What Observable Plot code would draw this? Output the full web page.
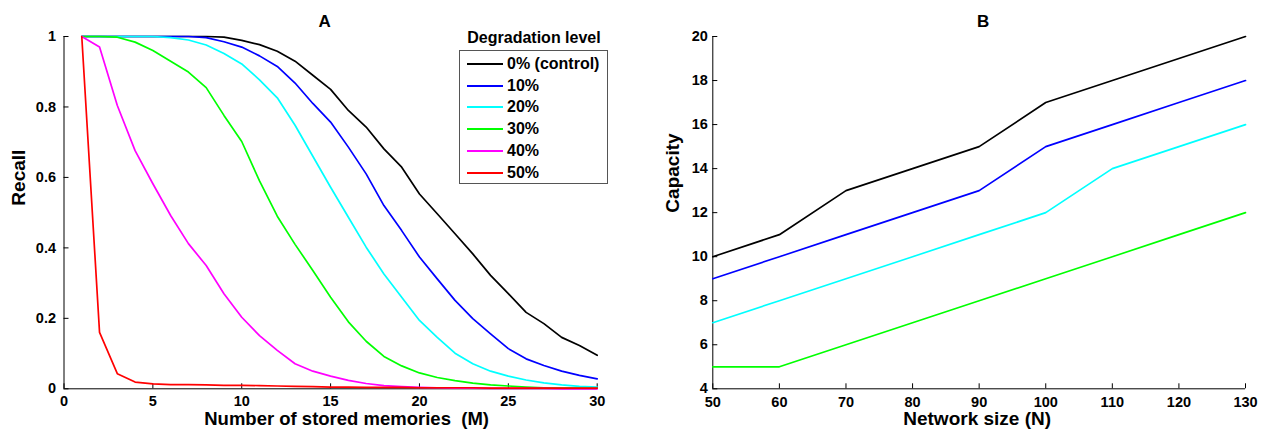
<!DOCTYPE html>
<html>
<head>
<meta charset="utf-8">
<script src="https://cdn.jsdelivr.net/npm/d3@7"></script>
<script src="https://cdn.jsdelivr.net/npm/@observablehq/plot@0.6"></script>
<style>
  body { margin: 0; background: #fff; }
  #wrap { position: relative; width: 1270px; height: 434px; display: flex; font-family: "Liberation Sans", Arial, sans-serif; }
  #wrap svg { display: block; }
  #legtitle { position: absolute; left: 459px; width: 150px; top: 29px; text-align: center; font-weight: bold; font-size: 16px; line-height: 18px; }
  #legend { position: absolute; left: 459px; top: 50px; width: 149px; height: 134px; border: 1px solid #555; box-sizing: border-box; background: #fff; }
  .row { position: absolute; left: 0; height: 20px; display: flex; align-items: center; font-weight: bold; font-size: 16px; }
  .row .sw { width: 36px; height: 2px; margin-left: 7px; margin-right: 4px; }
</style>
</head>
<body>
<div id="wrap"></div>
<script>
// ---------- Panel A data ----------
const memories = [1,2,3,4,5,6,7,8,9,10,11,12,13,14,15,16,17,18,19,20,21,22,23,24,25,26,27,28,29,30];
const recall0  = [1,1,1,1,1,1,1,1,0.998,0.989,0.977,0.958,0.93,0.89,0.85,0.79,0.743,0.681,0.629,0.553,0.497,0.44,0.383,0.322,0.27,0.217,0.185,0.146,0.123,0.095];
const recall10 = [1,1,1,1,1,1,1,0.997,0.985,0.97,0.945,0.915,0.868,0.81,0.757,0.686,0.61,0.52,0.449,0.374,0.312,0.251,0.199,0.156,0.114,0.085,0.066,0.05,0.038,0.028];
const recall20 = [1,1,1,1,1,0.997,0.99,0.976,0.952,0.922,0.877,0.826,0.748,0.66,0.572,0.487,0.402,0.326,0.26,0.194,0.146,0.101,0.071,0.05,0.036,0.025,0.017,0.011,0.007,0.005];
const recall30 = [1,1,0.998,0.984,0.96,0.93,0.899,0.855,0.776,0.702,0.59,0.49,0.41,0.336,0.26,0.19,0.135,0.092,0.065,0.045,0.032,0.023,0.016,0.011,0.008,0.005,0.003,0.002,0.002,0.001];
const recall40 = [1,0.97,0.804,0.676,0.582,0.492,0.412,0.35,0.27,0.203,0.151,0.109,0.071,0.05,0.036,0.024,0.015,0.009,0.006,0.004,0.003,0.002,0.002,0.001,0.001,0.001,0.001,0,0,0];
const recall50 = [1,0.16,0.043,0.019,0.014,0.012,0.012,0.011,0.01,0.01,0.009,0.008,0.007,0.006,0.005,0.005,0.004,0.004,0.004,0.003,0.003,0.003,0.003,0.002,0.002,0.002,0.002,0.002,0.002,0.002];

const levelLabels = ["0% (control)", "10%", "20%", "30%", "40%", "50%"];
const levelColors = ["#000000", "#0000ff", "#00ffff", "#00ff00", "#ff00ff", "#ff0000"];
const xTicksA = [0,5,10,15,20,25,30];
const yTicksA = [0,0.2,0.4,0.6,0.8,1];

// ---------- Panel B data ----------
const networkSize = [50,60,70,80,90,100,110,120,130];
const capacity0  = [10,11,13,14,15,17,18,19,20];
const capacity10 = [9,10,11,12,13,15,16,17,18];
const capacity20 = [7,8,9,10,11,12,14,15,16];
const capacity30 = [5,5,6,7,8,9,10,11,12];
const xTicksB = [50,60,70,80,90,100,110,120,130];
const yTicksB = [4,6,8,10,12,14,16,18,20];

// ---------- build tables ----------
const seriesA = [recall0, recall10, recall20, recall30, recall40, recall50];
const dataA = seriesA.flatMap((s, k) => s.map((v, i) => ({x: memories[i], y: v, level: levelLabels[k]})));
const seriesB = [capacity0, capacity10, capacity20, capacity30];
const dataB = seriesB.flatMap((s, k) => s.map((v, i) => ({x: networkSize[i], y: v, level: levelLabels[k]})));

const FONT = "Liberation Sans, Arial, sans-serif";
const colorScale = {domain: levelLabels, range: levelColors};

const chartA = Plot.plot({
  width: 635, height: 434,
  marginLeft: 63.5, marginRight: 38.3, marginTop: 36, marginBottom: 45.7,
  style: {fontFamily: FONT, fontWeight: "bold", fontSize: "14px", color: "#000", background: "#fff"},
  x: {domain: [0, 30]},
  y: {domain: [0, 1]},
  color: colorScale,
  marks: [
    Plot.axisX({ticks: xTicksA, tickSize: -5, tickPadding: 12, label: null, fontSize: 14.5, fontWeight: "bold"}),
    Plot.axisY({ticks: yTicksA, tickSize: -5, tickPadding: 13, label: null, fontSize: 14.5, fontWeight: "bold", tickFormat: d => String(d)}),
    Plot.ruleX([0], {stroke: "#000"}),
    Plot.ruleY([0], {stroke: "#000"}),
    Plot.line(dataA, {x: "x", y: "y", z: "level", stroke: "level", strokeWidth: 1.7}),
    Plot.text(["A"], {frameAnchor: "top", dy: -22, dx: -6, fontSize: 17, fontWeight: "bold"}),
    Plot.text(["Number of stored memories\u00a0 (M)"], {frameAnchor: "bottom", dy: 36, dx: 16, fontSize: 18.5, fontWeight: "bold"}),
    Plot.text(["Recall"], {frameAnchor: "left", dx: -45, dy: -7, rotate: -90, fontSize: 19, fontWeight: "bold"})
  ]
});

const chartB = Plot.plot({
  width: 635, height: 434,
  marginLeft: 77.3, marginRight: 25, marginTop: 36, marginBottom: 45.7,
  style: {fontFamily: FONT, fontWeight: "bold", fontSize: "14px", color: "#000", background: "#fff"},
  x: {domain: [50, 130]},
  y: {domain: [4, 20]},
  color: colorScale,
  marks: [
    Plot.axisX({ticks: xTicksB, tickSize: -5, tickPadding: 12.5, label: null, fontSize: 14.5, fontWeight: "bold"}),
    Plot.axisY({ticks: yTicksB, tickSize: -5, tickPadding: 10, label: null, fontSize: 14.5, fontWeight: "bold"}),
    Plot.ruleX([50], {stroke: "#000"}),
    Plot.ruleY([4], {stroke: "#000"}),
    Plot.line(dataB, {x: "x", y: "y", z: "level", stroke: "level", strokeWidth: 1.7}),
    Plot.text(["B"], {frameAnchor: "top", dy: -22, dx: 4, fontSize: 17, fontWeight: "bold"}),
    Plot.text(["Network size (N)"], {frameAnchor: "bottom", dy: 36.5, dx: -2, fontSize: 19, fontWeight: "bold"}),
    Plot.text(["Capacity"], {frameAnchor: "left", dx: -40, rotate: -90, fontSize: 19, fontWeight: "bold"})
  ]
});

const wrap = document.getElementById("wrap");
wrap.appendChild(chartA);
wrap.appendChild(chartB);

// legend (HTML overlay inside panel A)
const lt = document.createElement("div");
lt.id = "legtitle";
lt.textContent = "Degradation level";
wrap.appendChild(lt);
const leg = document.createElement("div");
leg.id = "legend";
levelLabels.forEach((lab, i) => {
  const r = document.createElement("div");
  r.className = "row";
  r.style.top = (3 + i * 21.7) + "px";
  const sw = document.createElement("span");
  sw.className = "sw";
  sw.style.background = levelColors[i];
  const t = document.createElement("span");
  t.textContent = lab;
  r.appendChild(sw); r.appendChild(t);
  leg.appendChild(r);
});
wrap.appendChild(leg);
</script>
</body>
</html>
